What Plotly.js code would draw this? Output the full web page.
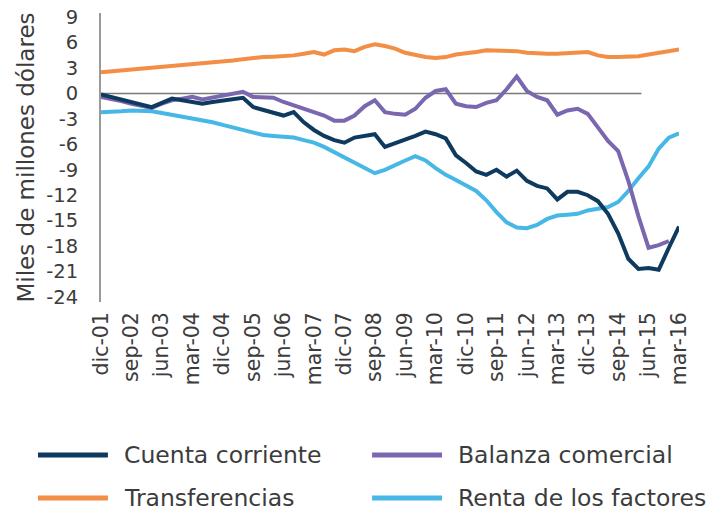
<!DOCTYPE html>
<html>
<head>
<meta charset="utf-8">
<script src="https://cdn.plot.ly/plotly-3.0.1.min.js"></script>
<style>html,body{margin:0;padding:0;background:#fff;}#chart{width:710px;height:512px;}</style>
</head>
<body>
<div id="chart"></div>
<script>
const quarters = ["dic-01",
"mar-02","jun-02","sep-02","dic-02","mar-03","jun-03","sep-03","dic-03",
"mar-04","jun-04","sep-04","dic-04","mar-05","jun-05","sep-05","dic-05",
"mar-06","jun-06","sep-06","dic-06","mar-07","jun-07","sep-07","dic-07",
"mar-08","jun-08","sep-08","dic-08","mar-09","jun-09","sep-09","dic-09",
"mar-10","jun-10","sep-10","dic-10","mar-11","jun-11","sep-11","dic-11",
"mar-12","jun-12","sep-12","dic-12","mar-13","jun-13","sep-13","dic-13",
"mar-14","jun-14","sep-14","dic-14","mar-15","jun-15","sep-15","dic-15",
"mar-16"];

const tickLabels = ["dic-01","sep-02","jun-03","mar-04","dic-04","sep-05","jun-06","mar-07","dic-07","sep-08","jun-09","mar-10","dic-10","sep-11","jun-12","mar-13","dic-13","sep-14","jun-15","mar-16"];

const seriesNames = ["Cuenta corriente","Balanza comercial","Transferencias","Renta de los factores"];

const cuentaCorriente = [-0.1,-0.4,-0.7,-1.0,-1.3,-1.6,-1.1,-0.6,-0.8,-1.0,
-1.2,-1.0,-0.8,-0.6,-0.5,-1.6,-1.9,-2.2,-2.6,-2.2,
-3.4,-4.3,-5.0,-5.5,-5.8,-5.2,-5.0,-4.8,-6.3,-5.9,
-5.5,-5.0,-4.5,-4.8,-5.3,-7.3,-8.2,-9.2,-9.6,-9.0,
-9.8,-9.1,-10.3,-10.9,-11.2,-12.5,-11.6,-11.6,-12.0,-12.7,
-14.2,-16.5,-19.5,-20.7,-20.6,-20.8,-18.2,-15.7];

const balanzaComercial = [-0.4,-0.6,-0.9,-1.2,-1.5,-1.7,-1.2,-0.8,-0.6,-0.4,
-0.7,-0.5,-0.2,0.0,0.2,-0.4,-0.5,-0.5,-1.0,-1.4,
-1.7,-2.1,-2.6,-3.2,-3.2,-2.6,-1.5,-0.8,-2.2,-2.4,
-2.5,-1.8,-0.5,0.3,0.5,-1.2,-1.5,-1.6,-1.1,-0.8,
0.5,2.0,0.3,-0.4,-0.8,-2.5,-2.0,-1.8,-2.4,-4.0,
-5.6,-6.8,-10.3,-14.5,-18.2,-17.9,-17.4];

const transferencias = [2.5,2.6,2.7,2.8,2.9,3.0,3.1,3.2,3.3,3.45,
3.55,3.65,3.8,3.9,4.05,4.2,4.3,4.35,4.4,4.5,
4.7,4.9,4.6,5.1,5.2,5.0,5.5,5.8,5.6,5.3,
4.8,4.5,4.3,4.2,4.3,4.6,4.7,4.9,5.1,5.1,
5.1,5.0,4.8,4.7,4.7,4.7,4.75,4.8,4.9,4.5,
4.3,4.3,4.3,4.4,4.6,4.8,5.0,5.2];

const rentaFactores = [-2.2,-2.2,-2.1,-2.0,-2.0,-2.1,-2.3,-2.5,-2.7,-2.9,
-3.1,-3.4,-3.7,-4.0,-4.3,-4.7,-4.9,-5.0,-5.1,-5.2,
-5.5,-5.8,-6.3,-6.9,-7.6,-8.2,-8.8,-9.4,-9.0,-8.4,
-7.9,-7.4,-7.9,-8.8,-9.6,-10.2,-10.8,-11.5,-12.6,-14.0,
-15.2,-15.8,-15.9,-15.5,-14.8,-14.4,-14.3,-14.2,-13.8,-13.6,
-13.4,-12.8,-11.5,-10.0,-8.6,-6.5,-5.2,-4.7];

const yTicks = [9,6,3,0,-3,-6,-9,-12,-15,-18,-21,-24];

const colors = ["#0f3a5f","#7a67b0","#f28e46","#47b8e6"];
const seriesData = [cuentaCorriente, balanzaComercial, transferencias, rentaFactores];
const drawOrder = [2,3,1,0];

const FONT = "'DejaVu Sans', Inter, sans-serif";
const TXT = "#3c3c3c";

const traces = drawOrder.map(k => ({
  type: "scatter", mode: "lines",
  x: quarters.slice(0, seriesData[k].length),
  y: seriesData[k],
  name: seriesNames[k],
  line: {color: colors[k], width: 4, shape: "linear"},
  showlegend: false,
  hoverinfo: "skip"
}));

// custom legend (long line samples, two columns)
const legendPos = [
  {lx0:-0.109, lx1:0.012, tx:0.036, y:-0.529},
  {lx0:0.469, lx1:0.590, tx:0.614, y:-0.529},
  {lx0:-0.109, lx1:0.012, tx:0.036, y:-0.678},
  {lx0:0.469, lx1:0.590, tx:0.614, y:-0.678}
];
const shapes = [{
  type:"line", xref:"x", yref:"y", x0:0, x1:53.3, y0:0, y1:0,
  line:{color:"#7a7a7a", width:1.3}, layer:"below"
}];
const annotations = [];
seriesNames.forEach((nm, k) => {
  const p = legendPos[k];
  shapes.push({type:"line", xref:"paper", yref:"paper", x0:p.lx0, x1:p.lx1, y0:p.y, y1:p.y,
    line:{color:colors[k], width:5}});
  annotations.push({xref:"paper", yref:"paper", x:p.tx, y:p.y, xanchor:"left", yanchor:"middle",
    text:nm, showarrow:false, font:{family:FONT, size:23.5, color:TXT}});
});

const layout = {
  width: 710, height: 512,
  margin: {l:101, r:31, t:13, b:210, pad:0},
  paper_bgcolor:"#fff", plot_bgcolor:"#fff",
  font: {family: FONT, color: TXT},
  showlegend: false,
  xaxis: {
    type:"category", categoryorder:"array", categoryarray: quarters,
    range:[0, 57], tickmode:"array", tickvals: tickLabels, ticktext: tickLabels,
    tickangle:-90, showgrid:false, zeroline:false, showline:false, ticks:"",
    ticklabelstandoff: 5,
    tickfont:{family:FONT, size:20.5, color:TXT}
  },
  yaxis: {
    range:[-24.6, 9.5], tickmode:"array", tickvals:yTicks, ticktext: yTicks.map(String),
    showgrid:false, zeroline:false, showline:true, linecolor:"#9a9a9a", linewidth:2,
    ticks:"", ticklabelstandoff: 17,
    tickfont:{family:FONT, size:19.5, color:TXT},
    title:{text:"Miles de millones dólares", font:{family:FONT, size:23, color:TXT}, standoff: 5}
  },
  shapes: shapes,
  annotations: annotations
};

Plotly.newPlot("chart", traces, layout, {displayModeBar:false, staticPlot:true});
</script>
</body>
</html>
